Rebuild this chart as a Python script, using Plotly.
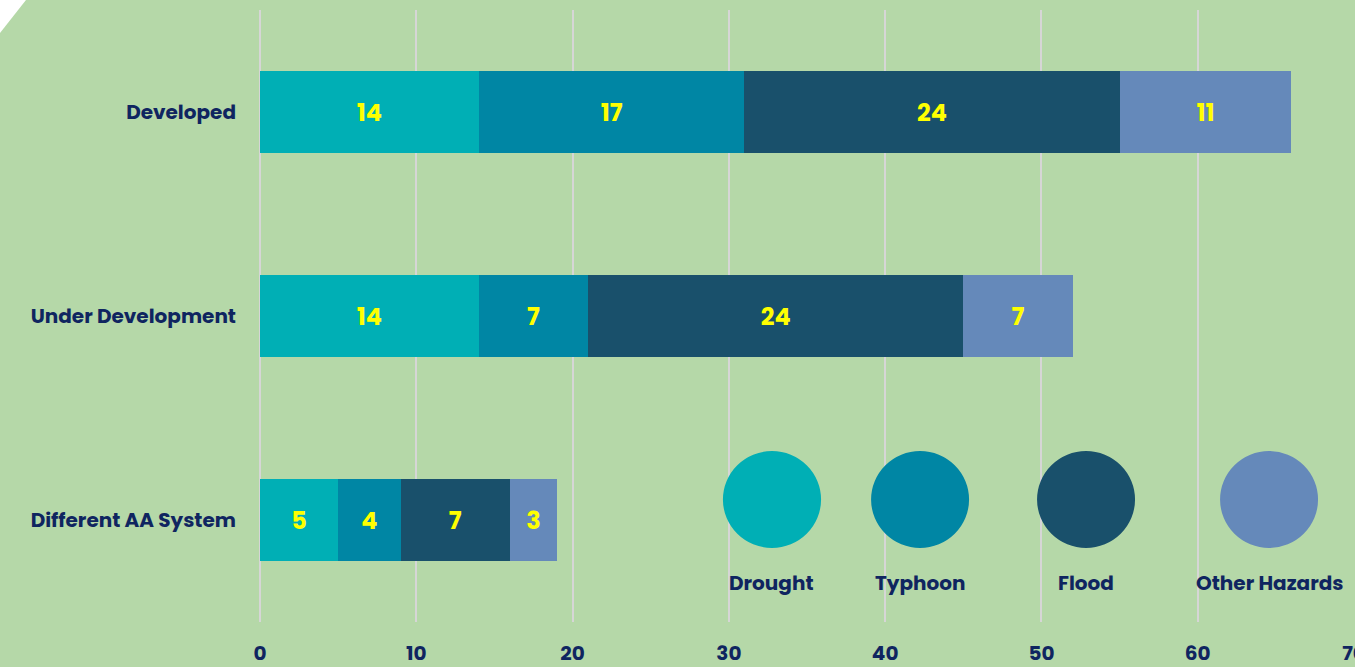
import plotly.graph_objects as go

categories = ["Developed", "Under Development", "Different AA System"]
series_names = ["Drought", "Typhoon", "Flood", "Other Hazards"]
drought = [14, 14, 5]
typhoon = [17, 7, 4]
flood = [24, 24, 7]
other = [11, 7, 3]
tick_vals = [0, 10, 20, 30, 40, 50, 60, 70]
colors = ["#00AFB5", "#0086A4", "#19506B", "#6589BA"]

BG = "#B5D8A8"
NAVY = "#0F2560"
FONT = "Poppins, Inter, Lato, sans-serif"

fig = go.Figure()
for name, vals, col in zip(series_names, [drought, typhoon, flood, other], colors):
    fig.add_trace(go.Bar(
        y=categories, x=vals, name=name, orientation="h",
        marker=dict(color=col, line=dict(width=0)),
        text=vals, textposition="inside", insidetextanchor="middle",
        constraintext="none",
        textfont=dict(color="#FFFF00", size=24, family=FONT, weight="bold"),
        showlegend=False,
    ))

# custom legend: large circles with labels below (in data x, paper y)
legend_x = [(29.62, 35.90), (39.10, 45.37), (49.72, 55.99), (61.43, 67.70)]
for (x0, x1), col, name in zip(legend_x, colors, series_names):
    fig.add_shape(type="circle", xref="x", yref="paper", x0=x0, x1=x1,
                  y0=0.1209, y1=0.2794, fillcolor=col, line=dict(width=0), layer="above")
    fig.add_annotation(x=(x0 + x1) / 2, y=0.038, xref="x", yref="paper",
                       text=name, showarrow=False,
                       font=dict(size=20, color=NAVY, family=FONT, weight="bold"))

# white corner triangle
fig.add_shape(type="path", xref="paper", yref="paper",
              path="M -0.2377 1.0163 L -0.2139 1.0163 L -0.2377 0.9624 Z",
              fillcolor="white", line=dict(width=0), layer="above")

fig.update_layout(
    barmode="stack",
    bargap=0.6,
    width=1355, height=667,
    margin=dict(l=260, r=1, t=10, b=45),
    paper_bgcolor=BG, plot_bgcolor=BG,
    font=dict(family=FONT, color=NAVY),
    xaxis=dict(range=[0, 70], tickvals=tick_vals, showgrid=True,
               gridcolor="#D6D6D6", gridwidth=1.5, zeroline=True,
               zerolinecolor="#D6D6D6", zerolinewidth=1.5,
               showline=False, ticks="", automargin=False,
               ticklabeloverflow="allow",
               tickfont=dict(size=20, color=NAVY, family=FONT, weight="bold"),
               ticklabelstandoff=17),
    yaxis=dict(autorange="reversed", showgrid=False, ticks="", automargin=False,
               ticklabelstandoff=23,
               tickfont=dict(size=20, color=NAVY, family=FONT, weight="bold")),
)

fig.write_html("out.html", config={"displayModeBar": False},
               post_script="document.body.style.margin='0';document.body.style.overflow='hidden';")
